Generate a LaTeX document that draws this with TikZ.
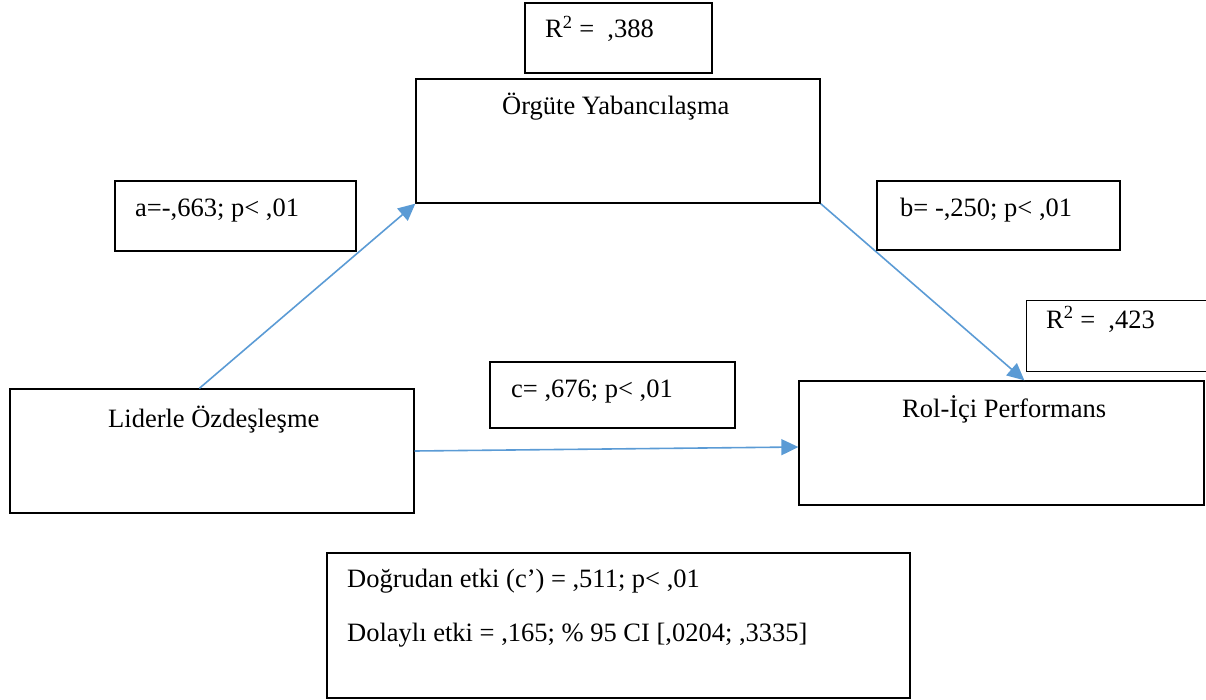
\documentclass[tikz,border=0pt]{standalone}
\usepackage{fontspec}
\setmainfont{Liberation Serif}
\usetikzlibrary{arrows.meta}
\definecolor{arrowblue}{HTML}{5B9BD5}
\begin{document}
\begin{tikzpicture}[x=1pt,y=-1pt,
  box/.style={draw=black,line width=1.3pt,rectangle,inner sep=0pt},
  openbox/.style={rectangle,inner sep=0pt},
  txt/.style={anchor=base west,inner sep=0pt,font=\fontsize{26.5}{30}\selectfont},
  conn/.style={draw=arrowblue,line width=1.6pt,-{Triangle[length=17pt,width=16pt]}}]
\useasboundingbox (0,0) rectangle (1206,700);
\coordinate (pageedge) at (1206.5,0);
% boxes
\node[box,minimum width=187,minimum height=70] (r1) at (618.5,38) {};
\node[box,minimum width=404,minimum height=124] (org) at (618,141) {};
\node[box,minimum width=241,minimum height=70] (abox) at (235.5,216) {};
\node[box,minimum width=243,minimum height=69] (bx) at (998.5,215.5) {};
\node[openbox,minimum width=200,minimum height=70] (r2) at (1127,336) {};
\draw[black,line width=1.3pt] (r2.north west -| pageedge) -- (r2.north west) -- (r2.south west) -- (r2.south west -| pageedge);
\node[box,minimum width=245,minimum height=66] (cbox) at (612.5,395) {};
\node[box,minimum width=404,minimum height=124] (lid) at (212,451) {};
\node[box,minimum width=405,minimum height=124] (rol) at (1001.5,443) {};
\node[box,minimum width=583,minimum height=145] (bot) at (618.5,625.5) {};
% texts
\node[txt] (t1) at (545,38) {R\textsuperscript{2} =~ ,388};
\node[txt] (t2) at (502,115) {Örgüte Yabancılaşma};
\node[txt] (t3) at (135,217) {a=-,663; p< ,01};
\node[txt] (t4) at (900,217) {b= -,250; p< ,01};
\node[txt] (t5) at (1046,328) {R\textsuperscript{2} =~ ,423};
\node[txt] (t6) at (511,397) {c= ,676; p< ,01};
\node[txt] (t7) at (108,427) {Liderle Özdeşleşme};
\node[txt] (t8) at (902,417) {Rol-İçi Performans};
\node[txt] (t9) at (347,587) {Doğrudan etki (c’) = ,511; p< ,01};
\node[txt] (t10) at (347,641) {Dolaylı etki = ,165; \% 95 CI [,0204; ,3335]};
% connectors
\draw[conn] ([xshift=190pt]lid.north west) -- (org.south west);
\draw[conn] (org.south east) -- ([xshift=226pt]rol.north west);
\draw[conn] (lid.east) -- ([yshift=-4pt]rol.west);
\end{tikzpicture}
\end{document}
